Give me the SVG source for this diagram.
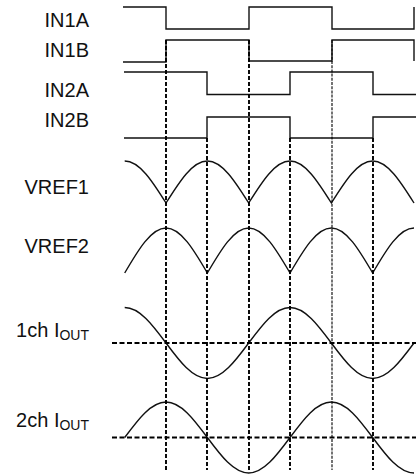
<svg xmlns="http://www.w3.org/2000/svg" width="416" height="476" viewBox="0 0 416 476">
<style>
.lbl{font-family:"Liberation Sans",Arial,sans-serif;font-size:20px;fill:#111;text-anchor:end}
.sub{font-size:14px}
.sig{fill:none;stroke:#111;stroke-width:1.4;stroke-linejoin:miter}
.dash{fill:none;stroke:#000;stroke-width:1.9;stroke-dasharray:4 2}
.thin{fill:none;stroke:#000;stroke-width:1.1;stroke-dasharray:3 1.2}
.hdash{fill:none;stroke:#000;stroke-width:1.9;stroke-dasharray:5 2.5}
</style>
<rect width="416" height="476" fill="#fff"/>
<g id="in1a">
<text class="lbl" x="89" y="27">IN1A</text>
<path class="sig" d="M123,7 H166 V29 H249 V7 H332 V29 H414 V7"/>
</g>
<g id="in1b">
<text class="lbl" x="89" y="57">IN1B</text>
<path class="sig" d="M123,62 H166 V40 H249 V61 H332 V40 H414 V61"/>
</g>
<g id="in2a">
<text class="lbl" x="89" y="97">IN2A</text>
<path class="sig" d="M124,72 H207 V94.5 H290 V72 H373 V94.5 H416"/>
</g>
<g id="in2b">
<text class="lbl" x="89" y="127">IN2B</text>
<path class="sig" d="M124,138 H207 V117 H290 V138 H373 V117 H416"/>
</g>
<g id="vref1">
<text class="lbl" x="89" y="194">VREF1</text>
<path class="sig" d="M124.7,161 c14.88,0 27.83,20.49 41.33,42 c13.5,-21.51 26.45,-42 41.33,-42 c14.88,0 27.83,20.49 41.33,42 c13.5,-21.51 26.45,-42 41.33,-42 c14.88,0 27.83,20.49 41.33,42 c13.5,-21.51 26.45,-42 41.33,-42 c14.88,0 27.83,20.49 41.33,42"/>
</g>
<g id="vref2">
<text class="lbl" x="89" y="253">VREF2</text>
<path class="sig" d="M124.7,273 c13.5,-23.05 26.45,-45 41.33,-45 c14.88,0 27.83,21.95 41.33,45 c13.5,-23.05 26.45,-45 41.33,-45 c14.88,0 27.83,21.95 41.33,45 c13.5,-23.05 26.45,-45 41.33,-45 c14.88,0 27.83,21.950 41.33,45 c13.5,-23.05 26.45,-45 41.33,-45"/>
</g>
<g id="iout1">
<text class="lbl" x="89" y="337">1ch I<tspan class="sub" dy="3">OUT</tspan></text>
<path class="sig" d="M124.7,307.5 c14.88,0 27.83,17.32 41.33,35.5 c13.5,18.18 26.45,35.5 41.33,35.5 c14.88,0 27.83,-17.32 41.33,-35.5 c13.5,-18.18 26.45,-35.5 41.33,-35.5 c14.88,0 27.83,17.32 41.33,35.5 c13.5,18.18 26.45,35.5 41.33,35.5 c14.88,0 27.83,-17.32 41.33,-35.5"/>
</g>
<g id="iout2">
<text class="lbl" x="89" y="427">2ch I<tspan class="sub" dy="3">OUT</tspan></text>
<path class="sig" d="M124.7,437.5 c13.5,-18.18 26.45,-35.5 41.33,-35.5 c14.88,0 27.83,17.32 41.33,35.5 c13.5,18.18 26.45,35.5 41.33,35.5 c14.88,0 27.83,-17.32 41.33,-35.5 c13.5,-18.18 26.45,-35.5 41.33,-35.5 c14.88,0 27.83,17.32 41.33,35.5 c13.5,18.18 26.45,35.5 41.33,35.5"/>
</g>
<g id="connectors">
<path class="dash" d="M166,40 V470 M207,138 V470 M249,40 V470 M290,138 V470 M373,138 V470"/>
<path class="thin" d="M332,40 V470"/>
<path class="hdash" d="M112,343 H416 M112,437.5 H416"/>
</g>
</svg>
